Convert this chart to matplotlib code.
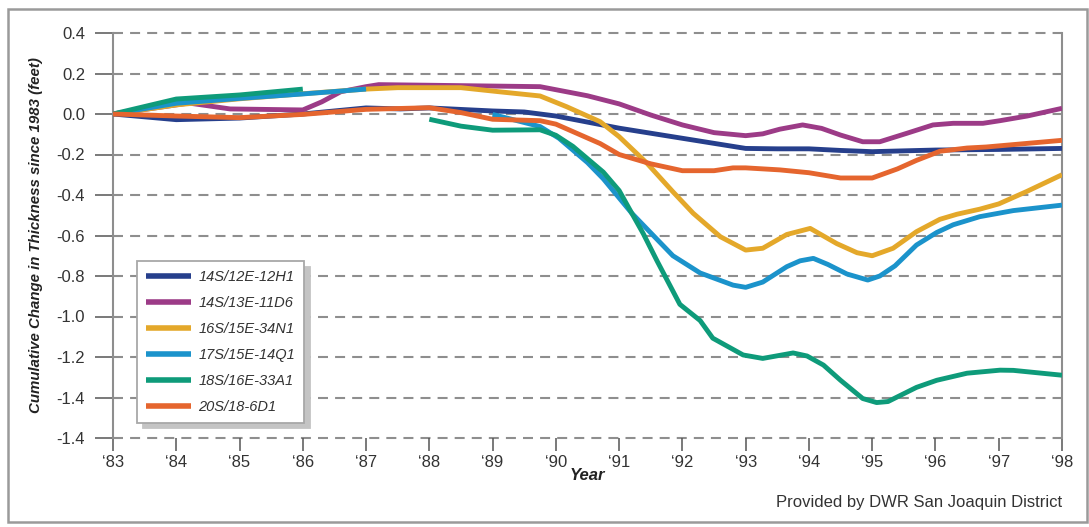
import numpy as np
import matplotlib
matplotlib.use("Agg")
import matplotlib.pyplot as plt
from matplotlib.patches import Rectangle

plt.rcParams['font.family'] = ['Liberation Sans', 'DejaVu Sans']

# ---------------- data ----------------
series_names = ["14S/12E-12H1", "14S/13E-11D6", "16S/15E-34N1",
                "17S/15E-14Q1", "18S/16E-33A1", "20S/18-6D1"]
series_colors = ["#263F8C", "#9C3B87", "#E4A82A", "#1B93CB", "#0E9B7A", "#E5652E"]

x_12H1 = [83, 84, 85, 86, 87, 87.54, 88, 89, 89.5, 90, 90.5, 91, 91.5, 92, 92.5,
          93, 93.5, 94, 94.5, 95, 95.5, 96, 97, 98]
y_12H1 = [0, -0.028, -0.02, 0.0, 0.03, 0.025, 0.03, 0.015, 0.01, -0.01, -0.04, -0.07,
          -0.095, -0.12, -0.145, -0.17, -0.172, -0.172, -0.18, -0.186, -0.182, -0.178,
          -0.175, -0.17]

x_11D6 = [83, 84.2, 84.85, 86.0, 86.3, 86.6, 87.0, 87.2, 88.0, 89.0, 89.75, 90.5, 91.0,
          91.5, 92.0, 92.5, 93.0, 93.27, 93.54, 93.9, 94.2, 94.5, 94.85, 95.12, 95.55,
          95.96, 96.28, 96.75, 97.02, 97.45, 98.0]
y_11D6 = [0, 0.054, 0.025, 0.02, 0.06, 0.11, 0.135, 0.145, 0.142, 0.138, 0.135, 0.09,
          0.05, -0.005, -0.054, -0.092, -0.107, -0.098, -0.075, -0.054, -0.071, -0.104,
          -0.137, -0.137, -0.095, -0.054, -0.046, -0.046, -0.033, -0.01, 0.028]

x_34N1 = [83, 84, 85, 86, 87, 87.5, 88.5, 89.1, 89.75, 90.17, 90.7, 91.0, 91.44, 91.85,
          92.17, 92.6, 93.0, 93.27, 93.65, 94.02, 94.44, 94.76, 95.0, 95.33, 95.7, 96.07,
          96.34, 96.7, 97.0, 97.44, 98.0]
y_34N1 = [0, 0.045, 0.075, 0.1, 0.123, 0.13, 0.13, 0.11, 0.089, 0.036, -0.038, -0.112,
          -0.243, -0.384, -0.49, -0.606, -0.672, -0.663, -0.595, -0.565, -0.64, -0.685,
          -0.70, -0.663, -0.581, -0.52, -0.495, -0.47, -0.444, -0.383, -0.30]

x_14Q1 = [83, 84, 85, 86, 87, 88, 89.0, 89.75, 90.05, 90.5, 90.75, 91.2, 91.85, 92.28,
          92.8, 93.0, 93.27, 93.65, 93.86, 94.07, 94.3, 94.6, 94.93, 95.12, 95.36, 95.7,
          96.02, 96.28, 96.7, 97.23, 98.0]
y_14Q1 = [0, 0.053, 0.077, 0.099, 0.123, np.nan, -0.002, -0.062, -0.12, -0.24, -0.32,
          -0.49, -0.70, -0.785, -0.845, -0.856, -0.83, -0.754, -0.725, -0.713, -0.743,
          -0.79, -0.82, -0.80, -0.75, -0.647, -0.585, -0.547, -0.507, -0.477, -0.45]

x_33A1 = [83, 84, 85, 86, 87, 88, 88.5, 89, 89.75, 90, 90.27, 90.75, 91, 91.2, 91.38,
          91.6, 91.96, 92.28, 92.48, 92.96, 93.27, 93.75, 93.97, 94.23, 94.5, 94.85,
          95.07, 95.25, 95.7, 96.02, 96.5, 97.02, 97.23, 98]
y_33A1 = [0, 0.074, 0.094, 0.123, np.nan, -0.026, -0.06, -0.08, -0.078, -0.105, -0.16,
          -0.287, -0.378, -0.49, -0.59, -0.726, -0.94, -1.02, -1.107, -1.19, -1.207,
          -1.18, -1.195, -1.24, -1.315, -1.405, -1.425, -1.42, -1.35, -1.315, -1.28,
          -1.265, -1.266, -1.29]

x_6D1 = [83, 84, 85, 86, 87, 88, 88.5, 89, 89.75, 90.0, 90.7, 91.0, 91.5, 92.0, 92.5,
         92.8, 93.0, 93.54, 94.0, 94.5, 95.0, 95.4, 95.7, 96.07, 96.5, 96.8, 98.0]
y_6D1 = [0, -0.01, -0.018, -0.002, 0.023, 0.031, 0.007, -0.026, -0.033, -0.05, -0.146,
         -0.2, -0.246, -0.28, -0.28, -0.266, -0.266, -0.276, -0.29, -0.316, -0.316,
         -0.271, -0.229, -0.184, -0.168, -0.163, -0.13]

series_x = [x_12H1, x_11D6, x_34N1, x_14Q1, x_33A1, x_6D1]
series_y = [y_12H1, y_11D6, y_34N1, y_14Q1, y_33A1, y_6D1]

x_ticks = list(range(83, 99))
x_tick_labels = ["\u2018%02d" % v for v in x_ticks]
y_ticks = [0.4, 0.2, 0.0, -0.2, -0.4, -0.6, -0.8, -1.0, -1.2, -1.4, -1.6]
y_tick_labels = ["0.4", "0.2", "0.0", "-0.2", "-0.4", "-0.6", "-0.8", "-1.0",
                 "-1.2", "-1.4", "-1.4"]

# ---------------- figure ----------------
W, H = 1089, 527
fig = plt.figure(figsize=(W / 100, H / 100), dpi=100)
fig.patch.set_facecolor("white")

# outer frame
fig.add_artist(Rectangle((8 / W, 1 - 522 / H), (1087 - 8) / W, (522 - 9) / H,
                         transform=fig.transFigure, fill=False,
                         edgecolor="#9a9a9a", linewidth=1.8))

ax = fig.add_axes([113 / W, 1 - 438 / H, (1062 - 113) / W, (438 - 33) / H])
ax.set_xlim(83, 98)
ax.set_ylim(-1.6, 0.4)

grid_color = "#8e8e8e"
for yv in y_ticks:
    ax.axhline(yv, color=grid_color, lw=1.5, dashes=(4.8, 3.4), zorder=1,
               clip_on=False)

handles = []
for i, (xs, ys) in enumerate(zip(series_x, series_y)):
    h, = ax.plot(xs, ys, color=series_colors[i], lw=3.5, label=series_names[i],
                 solid_joinstyle="round", solid_capstyle="butt", zorder=3 + i)
    handles.append(h)

for s in ["top", "bottom"]:
    ax.spines[s].set_visible(False)
for s in ["left", "right"]:
    ax.spines[s].set_color(grid_color)
    ax.spines[s].set_linewidth(1.5)

ax.set_xticks(x_ticks)
ax.set_xticklabels(x_tick_labels)
ax.set_yticks(y_ticks)
ax.set_yticklabels(y_tick_labels)
ax.tick_params(axis="y", direction="out", length=13, width=1.1, color="#555555",
               pad=7, labelsize=12, labelcolor="#333333")
ax.tick_params(axis="x", direction="out", length=9, width=1.1, color="#555555",
               pad=3, labelsize=12, labelcolor="#333333")

ax.set_xlabel("Year", fontsize=12, fontweight="bold", fontstyle="italic",
              color="#222222", labelpad=-1)
ax.set_ylabel("Cumulative Change in Thickness since 1983 (feet)", fontsize=10.8,
              fontweight="bold", fontstyle="italic", color="#222222", labelpad=10)

leg = ax.legend(handles=handles, loc="upper left",
                bbox_to_anchor=(137 / W, 1 - 261 / H), bbox_transform=fig.transFigure,
                borderaxespad=0, frameon=True, fancybox=False,
                shadow={"ox": 4, "oy": -4, "color": "#c4c4c4", "alpha": 1},
                prop={"size": 10.5, "style": "italic"}, handlelength=3.1,
                handletextpad=0.5, labelspacing=0.82, borderpad=0.62)
leg.get_frame().set_edgecolor("#a8a8a8")
leg.get_frame().set_linewidth(1.3)
for t in leg.get_texts():
    t.set_color("#333333")
for lh in leg.legend_handles:
    lh.set_linewidth(4)

fig.text(1062 / W, 1 - 503 / H, "Provided by DWR San Joaquin District",
         ha="right", va="center", fontsize=12, color="#333333")

fig.savefig("out.png", dpi=100, facecolor="white")
